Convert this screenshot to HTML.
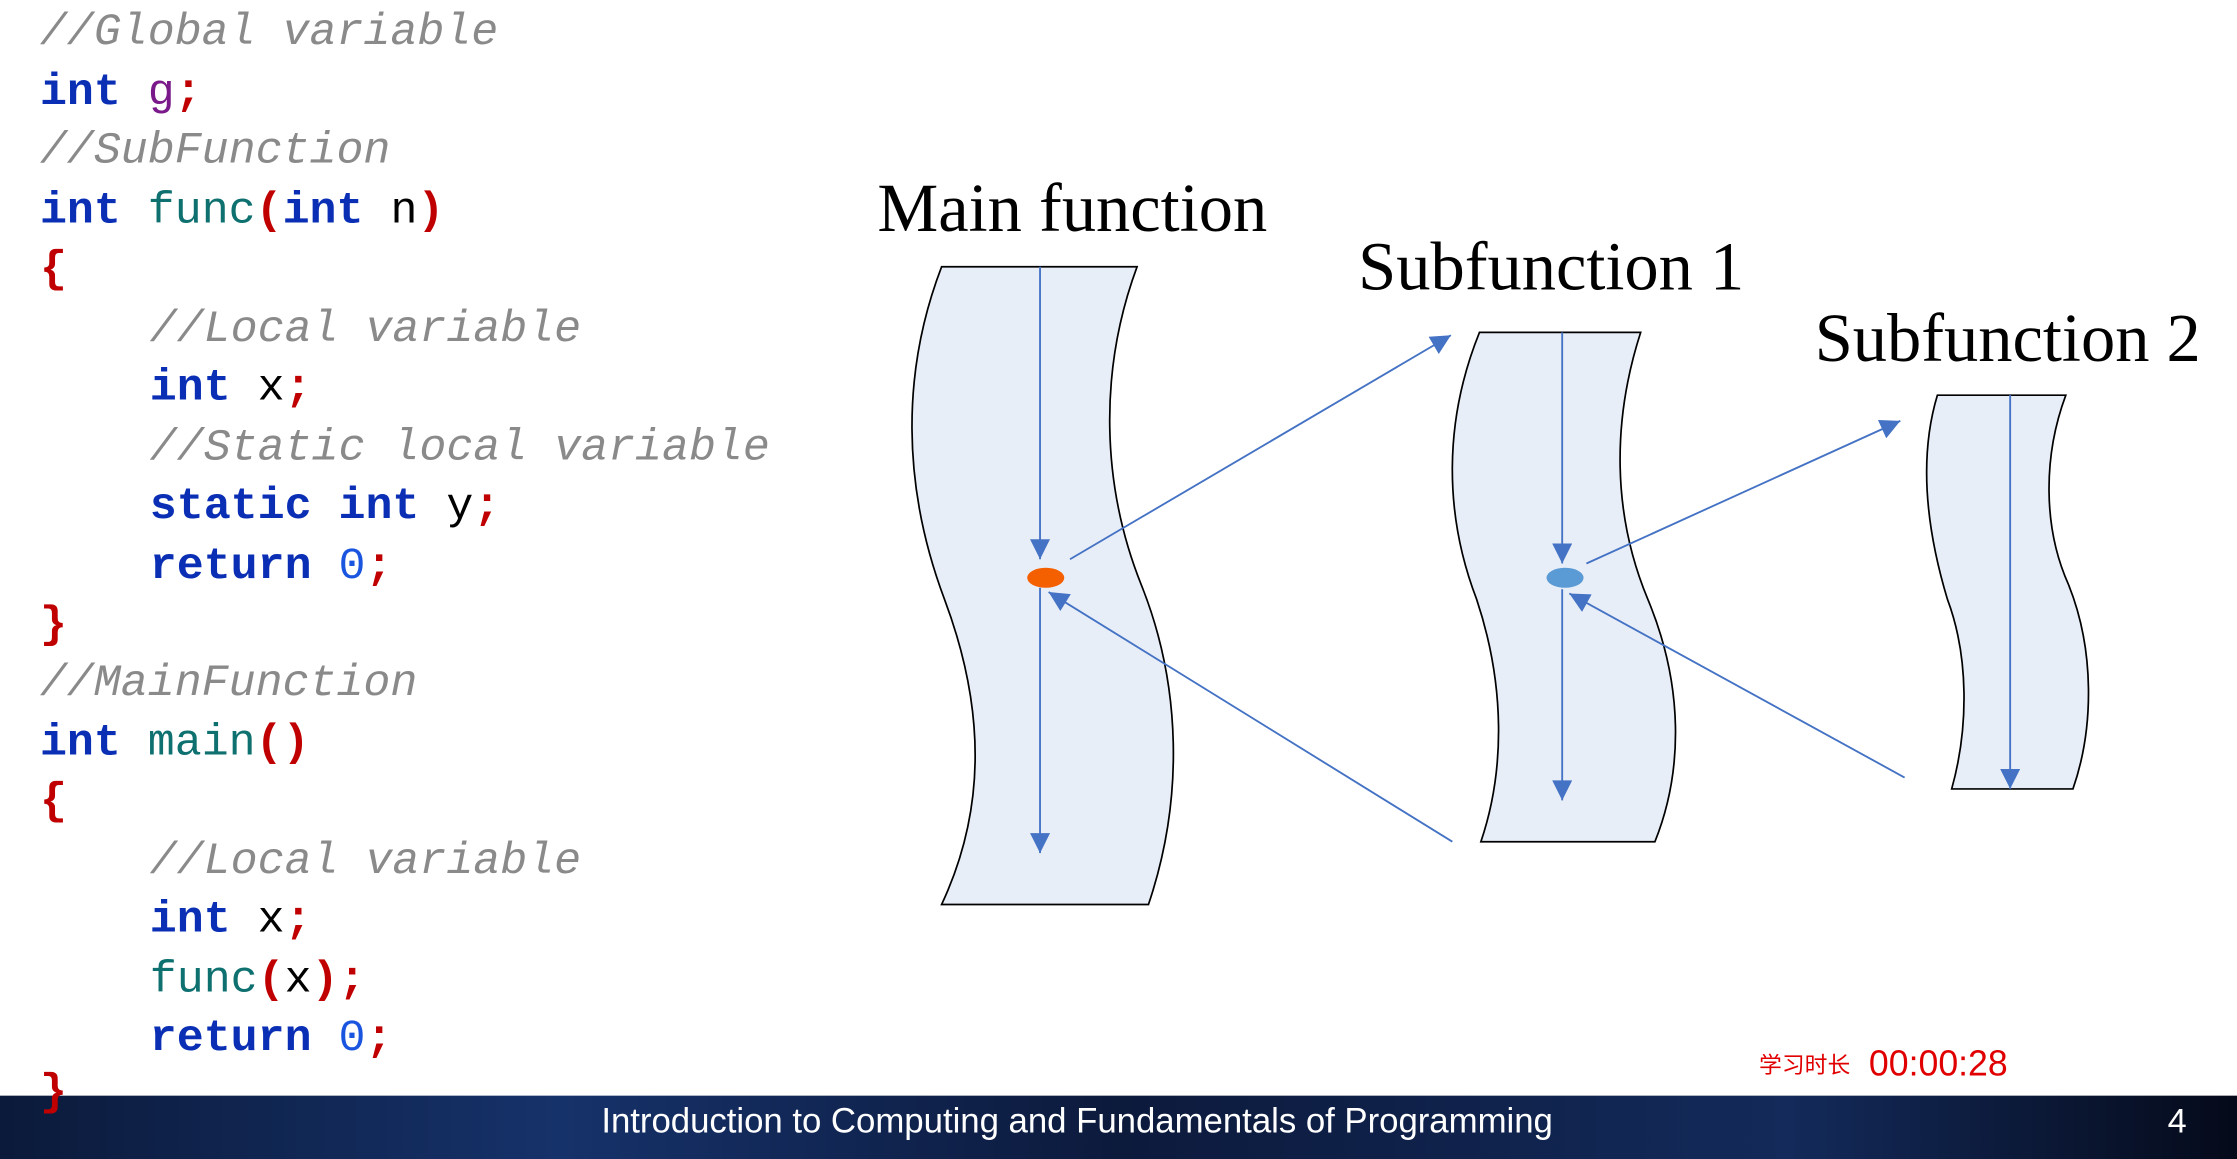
<!DOCTYPE html>
<html><head><meta charset="utf-8"><style>
html,body{margin:0;padding:0;background:#fff;}
svg{display:block;}
.c{font-family:"Liberation Mono",monospace;font-size:31.5px;}
.cm{fill:#8a8a8a;font-style:italic;}
.kw{fill:#0a2fb5;font-weight:bold;}
.rd{fill:#c00000;font-weight:bold;}
.tl{fill:#0f7070;}
.bk{fill:#000;}
.t{font-family:"Liberation Serif",serif;font-size:48px;fill:#000;}
</style></head><body>
<svg width="2237" height="1159" viewBox="0 0 1568 812.4" preserveAspectRatio="none" xmlns="http://www.w3.org/2000/svg">
<defs>
<linearGradient id="bar" x1="0" x2="1" y1="0" y2="0">
<stop offset="0" stop-color="#0b1a3a"/><stop offset="0.25" stop-color="#16326a"/><stop offset="0.5" stop-color="#0c1a3c"/><stop offset="0.8" stop-color="#132a5a"/><stop offset="1" stop-color="#050a1a"/>
</linearGradient>
<marker id="ah" viewBox="0 0 10 10" refX="10" refY="5" markerWidth="15" markerHeight="14" orient="auto" markerUnits="userSpaceOnUse">
<path d="M0,0 L10,5 L0,10 z" fill="#4472c4"/></marker>
</defs>
<g class="c">
<text x="28" y="31" class="cm">//Global variable</text>
<text x="28" y="73"><tspan class="kw">int</tspan> <tspan fill="#7a1a8a">g</tspan><tspan class="rd">;</tspan></text>
<text x="28" y="114" class="cm">//SubFunction</text>
<text x="28" y="156"><tspan class="kw">int</tspan> <tspan class="tl">func</tspan><tspan class="rd">(</tspan><tspan class="kw">int</tspan> <tspan class="bk">n</tspan><tspan class="rd">)</tspan></text>
<text x="28" y="197" class="rd">{</text>
<text x="105" y="239" class="cm">//Local variable</text>
<text x="105" y="280"><tspan class="kw">int</tspan> <tspan class="bk">x</tspan><tspan class="rd">;</tspan></text>
<text x="105" y="322" class="cm">//Static local variable</text>
<text x="105" y="363"><tspan class="kw">static int</tspan> <tspan class="bk">y</tspan><tspan class="rd">;</tspan></text>
<text x="105" y="405"><tspan class="kw">return</tspan> <tspan fill="#1a55e0">0</tspan><tspan class="rd">;</tspan></text>
<text x="28" y="446" class="rd">}</text>
<text x="28" y="487" class="cm">//MainFunction</text>
<text x="28" y="529"><tspan class="kw">int</tspan> <tspan class="tl">main</tspan><tspan class="rd">()</tspan></text>
<text x="28" y="570" class="rd">{</text>
<text x="105" y="612" class="cm">//Local variable</text>
<text x="105" y="653"><tspan class="kw">int</tspan> <tspan class="bk">x</tspan><tspan class="rd">;</tspan></text>
<text x="105" y="695"><tspan class="tl">func</tspan><tspan class="rd">(</tspan><tspan class="bk">x</tspan><tspan class="rd">);</tspan></text>
<text x="105" y="736"><tspan class="kw">return</tspan> <tspan fill="#1a55e0">0</tspan><tspan class="rd">;</tspan></text>
</g>
<text x="615" y="162" class="t">Main function</text>
<text x="952" y="203" class="t">Subfunction 1</text>
<text x="1272" y="253" class="t">Subfunction 2</text>
<g fill="#e8eef8" stroke="#000" stroke-width="1.2">
<path d="M660,187 L797,187 C770,260 772,340 800,410 C828,480 830,560 805,634 L660,634 C690,570 692,500 662,420 C632,340 632,260 660,187 Z"/>
<path d="M1037,233 L1150,233 C1130,295 1130,360 1155,420 C1180,480 1180,540 1160,590 L1038,590 C1055,540 1055,480 1035,420 C1012,360 1012,295 1037,233 Z"/>
<path d="M1358,277 L1448,277 C1432,320 1432,370 1450,410 C1468,455 1468,510 1453,553 L1368,553 C1380,510 1380,460 1365,420 C1350,370 1345,320 1358,277 Z"/>
</g>
<g stroke="#4472c4" stroke-width="1.3" fill="none" marker-end="url(#ah)">
<line x1="729" y1="187" x2="729" y2="392"/>
<line x1="729" y1="412" x2="729" y2="598"/>
<line x1="750" y1="392" x2="1017" y2="235"/>
<line x1="1018" y1="590" x2="735" y2="415"/>
<line x1="1095" y1="233" x2="1095" y2="395"/>
<line x1="1095" y1="413" x2="1095" y2="561"/>
<line x1="1112" y1="395" x2="1332" y2="295"/>
<line x1="1335" y1="545" x2="1100" y2="416"/>
<line x1="1409" y1="277" x2="1409" y2="553"/>
</g>
<ellipse cx="733" cy="405" rx="13" ry="7" fill="#f46000"/>
<ellipse cx="1097" cy="405" rx="13" ry="7" fill="#5b9bd5"/>
<text x="1233" y="752" font-family="'Liberation Sans','Noto Sans CJK SC',sans-serif" font-size="16" fill="#e00000">学习时长</text>
<text x="1310" y="754" font-family="'Liberation Sans',sans-serif" font-size="25" fill="#e00000">00:00:28</text>
<rect x="0" y="768" width="1568" height="44.4" fill="url(#bar)"/>
<text x="28" y="774" font-size="31.5" font-family="Liberation Mono,monospace" font-weight="bold" fill="#c00000">}</text>
<text x="755" y="794" text-anchor="middle" font-family="'Liberation Sans',sans-serif" font-size="24.4" fill="#fff" textLength="667">Introduction to Computing and Fundamentals of Programming</text>
<text x="1526" y="794" text-anchor="middle" font-family="'Liberation Sans',sans-serif" font-size="24" fill="#fff">4</text>
</svg>
</body></html>
